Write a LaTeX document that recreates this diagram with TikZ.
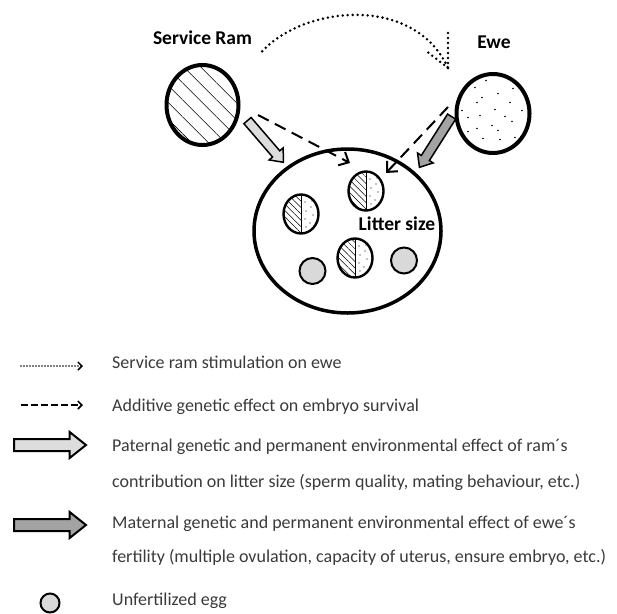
\documentclass[tikz,border=0pt]{standalone}
\usepackage{fontspec}
\setmainfont{Carlito}
\newfontfamily\labelfont{Carlito}
\usetikzlibrary{shapes.geometric,shapes.arrows,arrows.meta,patterns.meta}

\definecolor{lightfill}{HTML}{DDDDDD}
\definecolor{darkfill}{HTML}{A3A3A3}
\definecolor{eggfill}{HTML}{D9D9D9}
\definecolor{legendtext}{HTML}{3A3A3A}

\tikzset{
  parent/.style={ellipse, draw, line width=4pt, minimum width=72pt, minimum height=80pt, inner sep=0pt},
  ewebody/.style={parent, minimum width=73pt, minimum height=79pt, fill=white,
    path picture={
      \foreach \dx/\dy in {-18/-26, -7/-33, 5/-20, 20/-25, -11/-16, -16/-11, 17/-11, 29/-3, 2/-4, -31/-3,
        -25/4, -13/2, 12/3, 19/8, -1/12, -25/18, -16/15, 5/17, -10/25, 7/26, 22/24}
        \fill[black] (path picture bounding box.center) ++(\dx,\dy) circle (0.85pt);
    }},
  embryo/.style={ellipse, draw, line width=2.4pt, minimum width=35pt, minimum height=39pt, inner sep=0pt,
    path picture={
      \fill[pattern={Lines[angle=-45,distance=4.5pt,line width=0.5pt]}]
        (path picture bounding box.south west) rectangle (path picture bounding box.north);
      \foreach \dx/\dy in {4/-12, 10/-7, 5/-3, 12/1, 4/5, 9/9, 5/13, 11/-13, 13/12}
        \fill[black] (path picture bounding box.center) ++(\dx,\dy) circle (0.65pt);
      \draw[line width=0.7pt] (path picture bounding box.north) -- (path picture bounding box.south);
    }},
  egg/.style={circle, draw, line width=2pt, fill=eggfill, minimum size=26pt, inner sep=0pt},
  headlbl/.style={font=\labelfont\fontsize{19.5}{22}\selectfont\bfseries, inner sep=0pt, anchor=base},
  legendlbl/.style={anchor=base west, inner sep=0pt, text=legendtext, font=\fontsize{18}{21}\selectfont},
  stimline/.style={line width=2.8pt, dash pattern=on 0pt off 5pt, line cap=round},
  geneline/.style={line width=2pt, dash pattern=on 12pt off 7pt, -{Straight Barb[length=8pt,width=15pt,line width=2pt]}},
  fatarrow/.style={single arrow, draw, line width=1.5pt, inner sep=0pt, text height=4pt, text depth=4pt,
    single arrow head extend=4.5pt, single arrow tip angle=80, anchor=tail, sloped, allow upside down, pos=0},
}

\begin{document}
\begin{tikzpicture}[x=1pt, y=-1pt]
\useasboundingbox (0,0) rectangle (617,613);

\node[headlbl] (ramlbl) at (202.5,44) {Service Ram};
\node[headlbl] (ewelbl) at (494,48) {Ewe};

\node[parent, pattern={Lines[angle=-45,distance=12pt,line width=0.6pt]}] (ram) at (202.5,105) {};
\node[ewebody] (ewe) at (493,113.5) {};

\node[ellipse, draw, line width=3.5pt, minimum width=187pt, minimum height=164pt] (litter) at (347.5,231) {};

\node[embryo] (emb1) at (366,191) {};
\node[embryo] (emb2) at (301,214) {};
\node[embryo] (emb3) at (355,258) {};
\node[egg] (egg1) at (312.5,271) {};
\node[egg] (egg2) at (404,260.5) {};
\node[headlbl] (littlbl) at (397,230) {Litter size};

% stimulation
\coordinate (stimtip) at (448,68);
\draw[stimline] ([xshift=10pt,yshift=-7pt]ramlbl.south east) .. controls (305,5) and (415,-5) .. (stimtip);
\draw[stimline] (stimtip) -- ++(0,-35);
\draw[stimline] (stimtip) -- ++(-23,-18);

% additive genetic
\coordinate (ramgen) at (258,115);
\coordinate (ramgentip) at (350,163);
\coordinate (ewegen) at (448,107);
\coordinate (ewegentip) at (386,173);
\draw[geneline] (ramgen) -- (ramgentip);
\draw[geneline] (ewegen) -- (ewegentip);

% paternal / maternal
\coordinate (ramfat) at (247,120);
\coordinate (ramfattip) at (284,163);
\coordinate (ewefat) at (452,116);
\coordinate (ewefattip) at (419,168);
\path (ramfat) -- node[fatarrow, fill=lightfill, minimum height=55pt] {} (ramfattip);
\path (ewefat) -- node[fatarrow, fill=darkfill, minimum height=60pt] {} (ewefattip);

% legend
\coordinate (lg1a) at (21,366); \coordinate (lg1b) at (83,366);
\coordinate (lg2a) at (21,405); \coordinate (lg2b) at (83,405);
\coordinate (lg3a) at (13,445); \coordinate (lg3b) at (87,445);
\coordinate (lg4a) at (13,525); \coordinate (lg4b) at (87,525);
\draw[line width=1.8pt, dash pattern=on 0pt off 3pt, line cap=round,
  -{Straight Barb[length=4pt,width=8pt,line width=1.5pt]}] (lg1a) -- (lg1b);
\draw[line width=1.7pt, dash pattern=on 6.5pt off 3.5pt,
  -{Straight Barb[length=4pt,width=8pt,line width=1.6pt]}] (lg2a) -- (lg2b);
\path (lg3a) -- node[fatarrow, fill=lightfill, minimum height=72pt, line width=2pt, text height=5pt, text depth=5pt,
  single arrow head extend=7pt, single arrow tip angle=77] {} (lg3b);
\path (lg4a) -- node[fatarrow, fill=darkfill, minimum height=72pt, line width=2pt, text height=5pt, text depth=5pt,
  single arrow head extend=7pt, single arrow tip angle=77] {} (lg4b);
\node[egg, minimum size=19pt] (lgegg) at (50,603) {};

\node[legendlbl] (t1) at (112,368) {Service ram stimulation on ewe};
\node[legendlbl] (t2) at (112,411) {Additive genetic effect on embryo survival};
\node[legendlbl] (t3) at (112,451) {Paternal genetic and permanent environmental effect of ram´s};
\node[legendlbl] (t4) at (112,487) {contribution on litter size (sperm quality, mating behaviour, etc.)};
\node[legendlbl] (t5) at (112,528) {Maternal genetic and permanent environmental effect of ewe´s};
\node[legendlbl] (t6) at (112,562) {fertility (multiple ovulation, capacity of uterus, ensure embryo, etc.)};
\node[legendlbl] (t7) at (112,605) {Unfertilized egg};

\end{tikzpicture}
\end{document}
